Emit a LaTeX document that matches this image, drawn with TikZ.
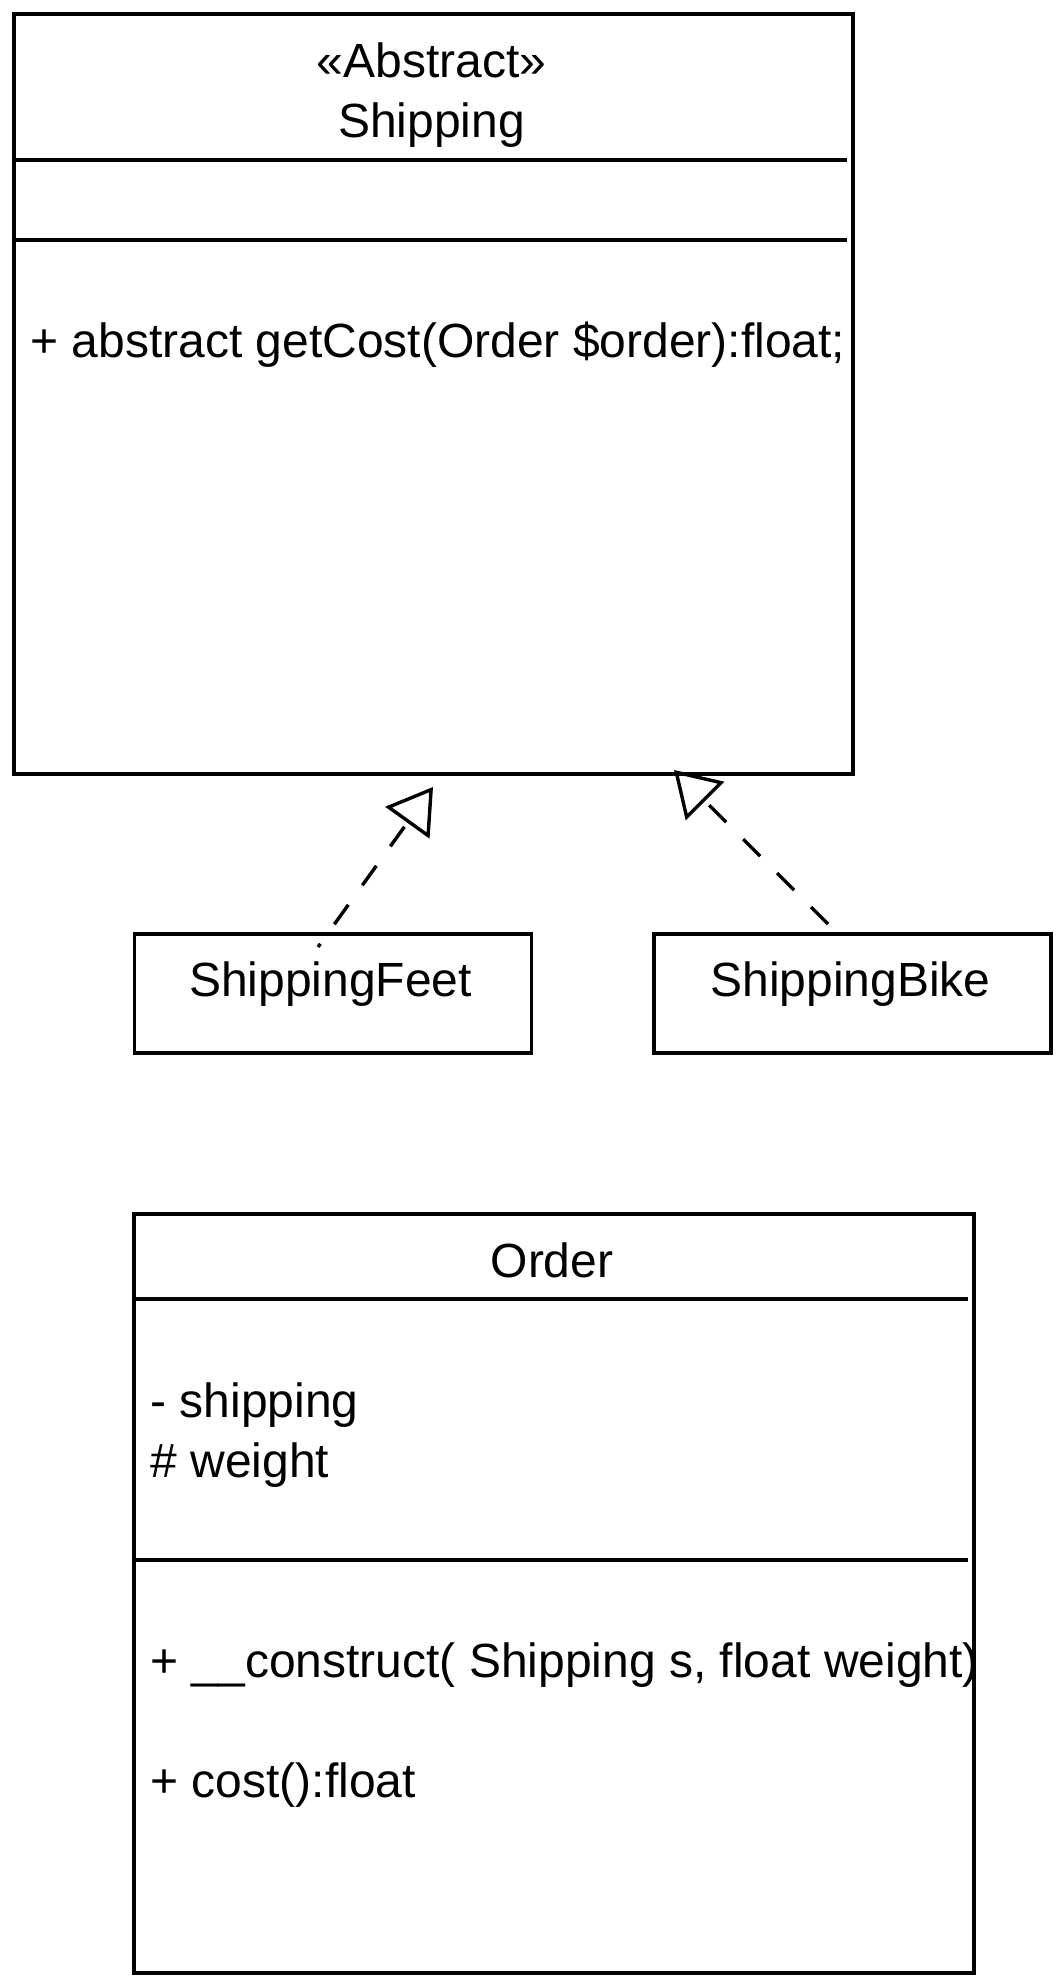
\documentclass[tikz,border=0pt]{standalone}
\usepackage{fontspec}
\setmainfont{Liberation Sans}
\usetikzlibrary{arrows.meta}
\begin{document}
\begin{tikzpicture}[x=0.5pt,y=-0.5pt,
  txt/.style={inner sep=0pt, font=\fontsize{24}{28}\selectfont},
  box/.style={draw, line width=1.8pt, inner sep=0pt, anchor=north west},
  sepline/.style={line width=1.8pt},
  realize/.style={line width=1.7pt, dash pattern=on 12pt off 12pt,
    -{Triangle[open, length=22pt, width=27pt]}}]
\useasboundingbox (0,0) rectangle (1060,1980);

% texts of class Shipping
\node[txt, anchor=base] (shipster) at (431.5,78) {«Abstract»};
\node[txt, anchor=base] (shipname) at (431.5,137) {Shipping};
\node[txt, anchor=base west] (shipop) at (30,357) {+ abstract getCost(Order \$order):float;};

% texts of subclasses
\node[txt, anchor=base] (feetname) at (330.5,996) {ShippingFeet};
\node[txt, anchor=base] (bikename) at (850.5,996) {ShippingBike};

% texts of class Order
\node[txt, anchor=base] (ordername) at (552,1277) {Order};
\node[txt, anchor=base west] (attr1) at (150,1417) {- shipping};
\node[txt, anchor=base west] (attr2) at (150,1477) {\# weight};
\node[txt, anchor=base west] (op1) at (150,1677) {+ \_\_construct( Shipping s, float weight)};
\node[txt, anchor=base west] (op2) at (150,1797) {+ cost():float};

% boxes
\node[box, minimum width=419.5pt, minimum height=380pt] (shipping) at (12,12) {};
\node[box, minimum width=198.5pt, minimum height=59.5pt] (feet) at (132.5,932) {};
\node[box, minimum width=198.5pt, minimum height=59.5pt] (bike) at (652,932) {};
\node[box, minimum width=420pt, minimum height=379.5pt] (order) at (132,1212) {};

% compartment lines
\draw[sepline] (shipping.west |- 0,160) -- (847,160);
\draw[sepline] (shipping.west |- 0,240) -- (847,240);
\draw[sepline] (order.west |- 0,1299) -- (968,1299);
\draw[sepline] (order.west |- 0,1560) -- (968,1560);

% realization connectors
\coordinate (e1s) at (318,947);
\coordinate (e1t) at (433,787);
\coordinate (e2s) at (828,924);
\coordinate (e2t) at (674,770);
\draw[realize, dash phase=10pt] (e1s) -- (e1t);
\draw[realize] (e2s) -- (e2t);
\end{tikzpicture}
\end{document}
